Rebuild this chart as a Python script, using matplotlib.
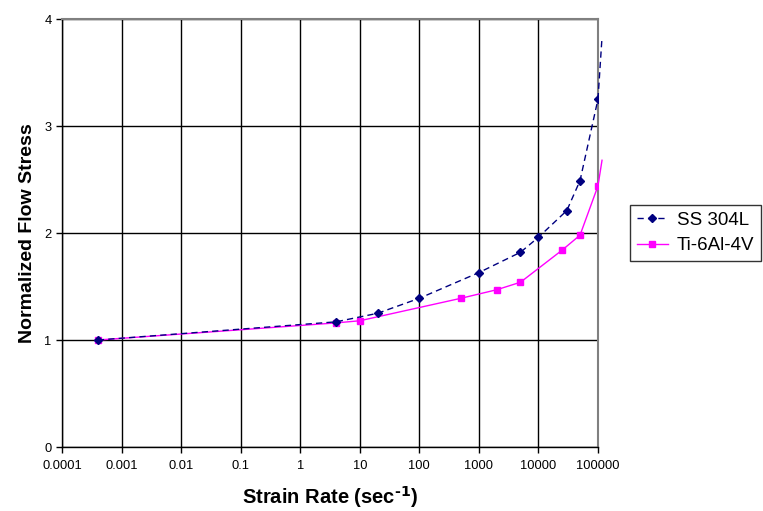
import numpy as np
from matplotlib import pyplot as plt

plt.rcParams['font.family'] = ['Liberation Sans', 'DejaVu Sans']

# SS 304L
ss_rate = [0.0004, 4, 20, 100, 1000, 5000, 10000, 30000, 50000, 100000]
ss_stress = [1.0, 1.17, 1.25, 1.39, 1.63, 1.82, 1.96, 2.21, 2.49, 3.25]
ss_ext_rate = [100000, 117000]
ss_ext_stress = [3.25, 3.83]

# Ti-6Al-4V
ti_rate = [0.0004, 4, 10, 500, 2000, 5000, 25000, 50000, 100000]
ti_stress = [1.0, 1.16, 1.18, 1.39, 1.47, 1.54, 1.84, 1.98, 2.44]
ti_ext_rate = [100000, 117000]
ti_ext_stress = [2.44, 2.68]

x_ticks = [1e-4, 1e-3, 1e-2, 1e-1, 1, 10, 100, 1000, 10000, 100000]
x_labels = ['0.0001', '0.001', '0.01', '0.1', '1', '10', '100', '1000', '10000', '100000']

fig = plt.figure(figsize=(7.63, 5.11), dpi=100)
ax = fig.add_axes([0.0813, 0.1252, 0.7024, 0.8376])

navy = '#000080'
magenta = '#FF00FF'

l1, = ax.plot(ss_rate, ss_stress, color=navy, ls=(0, (4.5, 3)), lw=1.0,
              marker='D', ms=3.8, mfc=navy, mec=navy, label='SS 304L', zorder=4)
ax.plot(ss_ext_rate, ss_ext_stress, color=navy, ls=(0, (4.5, 3)), lw=1.0,
        clip_on=False, zorder=4)
l2, = ax.plot(ti_rate, ti_stress, color=magenta, lw=1.0,
              marker='s', ms=4.8, mfc=magenta, mec=magenta, label='Ti-6Al-4V', zorder=3)
ax.plot(ti_ext_rate, ti_ext_stress, color=magenta, lw=1.0, clip_on=False, zorder=3)

ax.set_xscale('log')
ax.set_xlim(1e-4, 1e5)
ax.set_ylim(0, 4)
ax.set_xticks(x_ticks)
ax.set_xticklabels(x_labels)
ax.xaxis.set_minor_locator(plt.NullLocator())
ax.set_yticks([0, 1, 2, 3, 4])
ax.tick_params(axis='both', labelsize=9.3, direction='out', length=4, width=1, color='black')
ax.tick_params(axis='x', pad=5)

ax.grid(True, color='black', lw=1.0)
ax.set_axisbelow(True)
for s in ['left', 'bottom']:
    ax.spines[s].set_color('black')
    ax.spines[s].set_linewidth(1.0)
for s in ['top', 'right']:
    ax.spines[s].set_color('#808080')
    ax.spines[s].set_linewidth(1.5)

ax.set_xlabel('Strain Rate (sec$^{\\mathbf{\u2010}\\mathbf{1}}$)', fontsize=14.5,
              fontweight='bold', labelpad=9)
ax.set_ylabel('Normalized Flow Stress', fontsize=14, fontweight='bold', labelpad=6)

leg = fig.legend(handles=[l1, l2], loc='upper left', bbox_to_anchor=(0.826, 0.599),
                 fontsize=13.5, frameon=True, fancybox=False, edgecolor='black',
                 borderpad=0.35, borderaxespad=0, handlelength=1.65,
                 handletextpad=0.5, labelspacing=0.45)
leg.get_frame().set_linewidth(1.0)

plt.savefig('out.png', dpi=100)
